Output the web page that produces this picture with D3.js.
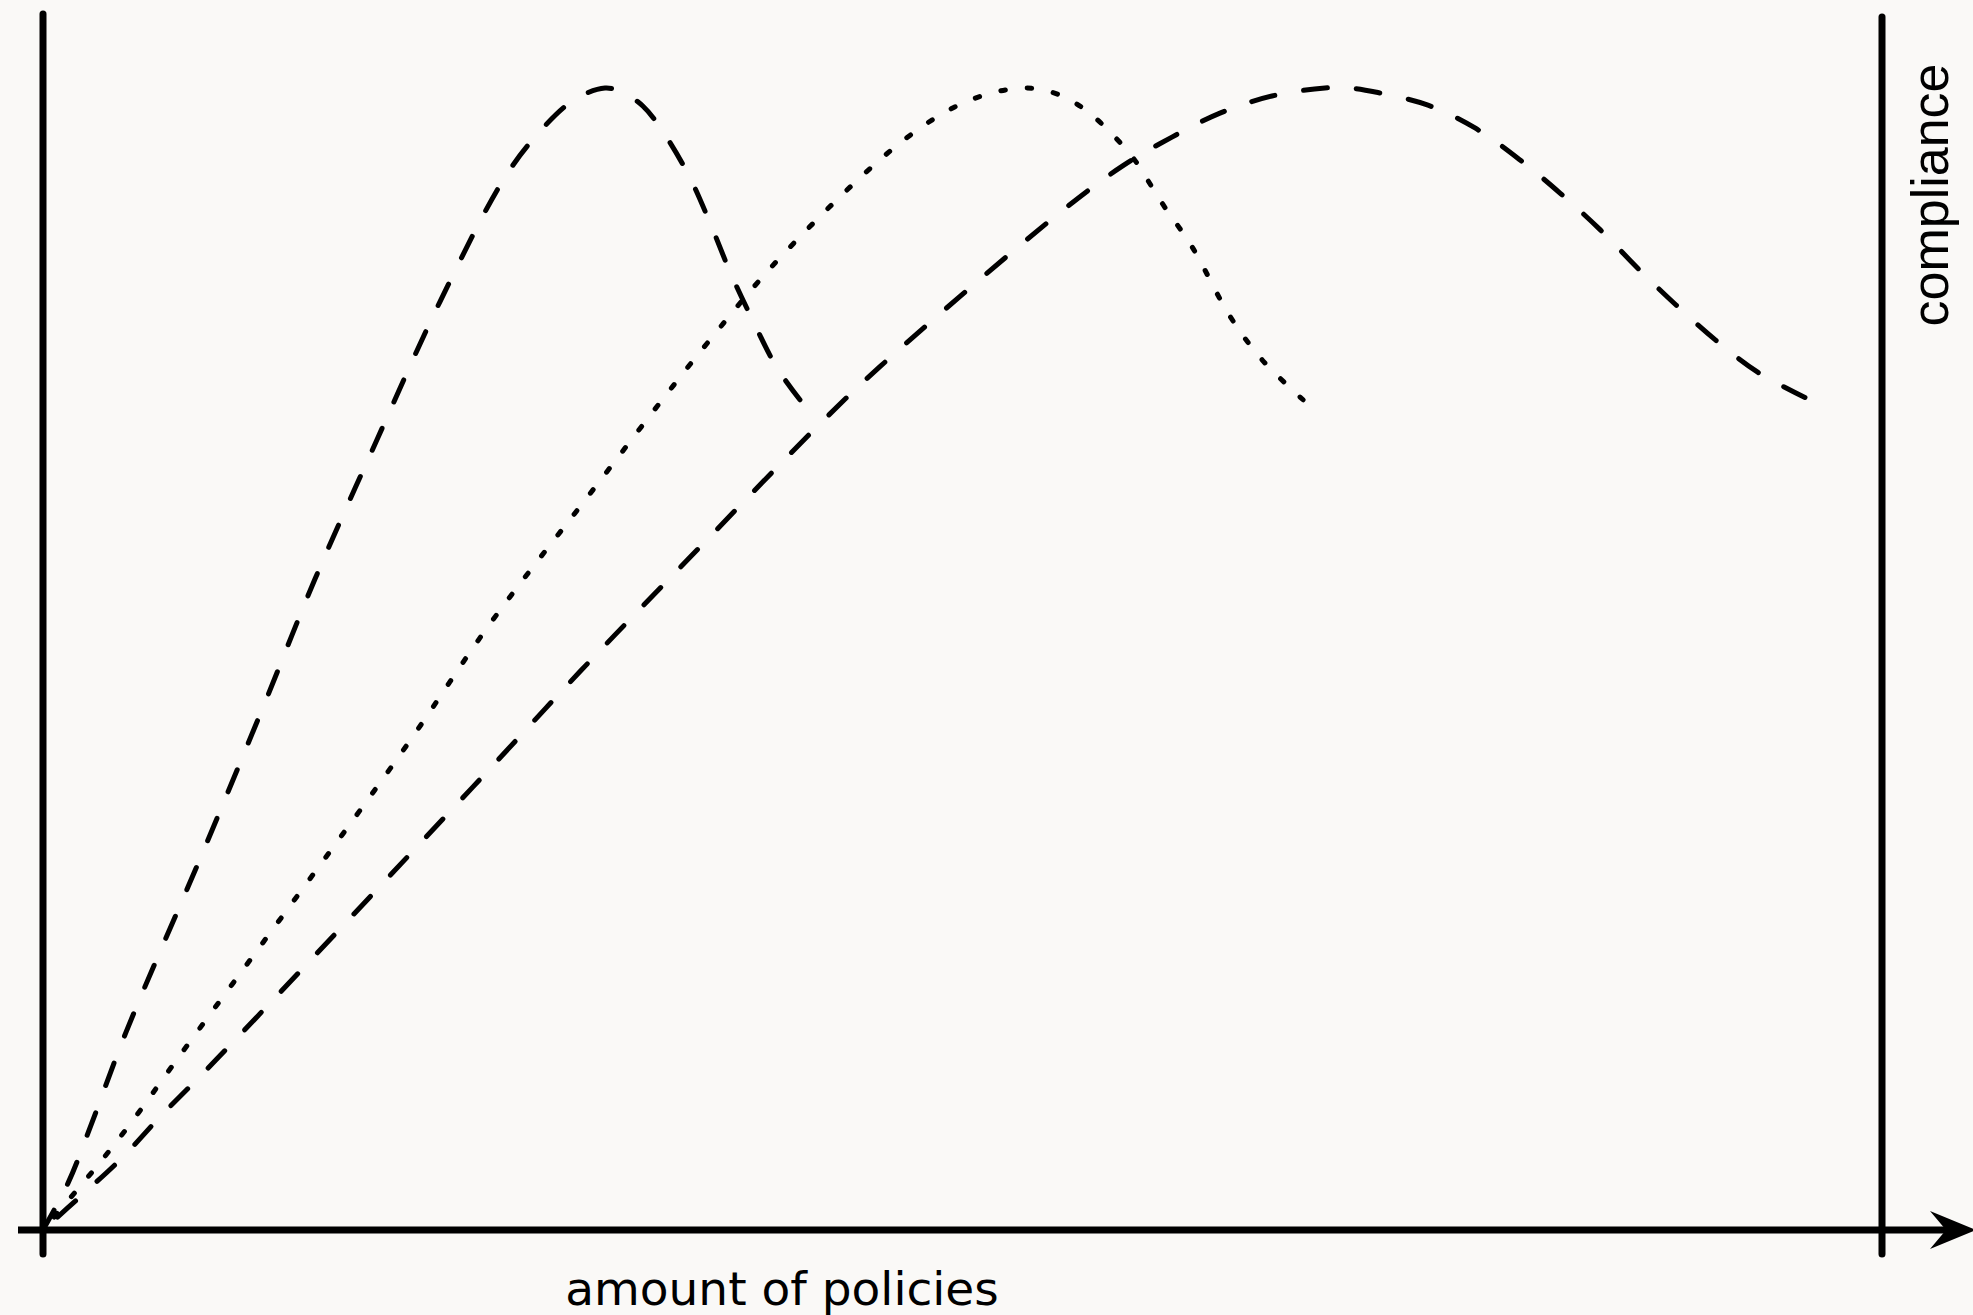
<!DOCTYPE html>
<html>
<head>
<meta charset="utf-8">
<script src="https://cdn.jsdelivr.net/npm/d3@7"></script>
<style>
  html, body { margin: 0; padding: 0; background: #faf9f7; }
  svg { display: block; }
</style>
</head>
<body>
<div id="chart"></div>
<script>
// Data: [amount of policies, compliance] in arbitrary units (peak = 100)
const curveNarrow = [[0,0],[1.36,4.1],[2.45,8.5],[4.51,17.3],[8.59,32.7],[12.02,46.0],[14.79,57.0],[18.16,69.2],[21.59,81.3],[25.01,91.9],[26.75,95.7],[28.82,98.9],[30.56,100],[31.54,99.6],[32.63,98.4],[33.66,96.3],[35.13,92.3],[36.27,88.2],[37.36,83.9],[38.61,79.6],[39.91,75.5],[41.16,72.7]]
const curveMiddle = [[0,0],[2.99,5.7],[4.84,9.5],[7.45,15.3],[19.41,41.6],[24.36,53.2],[29.47,63.9],[35.89,77.2],[40.46,85.8],[46.93,95.6],[50.35,98.9],[53.24,100],[54.92,99.6],[56.12,98.7],[57.2,97.4],[58.29,95.7],[59.27,93.9],[60.9,89.8],[62.48,86.1],[64.55,80.0],[66.29,76.2],[68.52,72.7]]
const curveWide = [[0,0],[2.28,3.3],[4.35,6.4],[6.36,9.9],[9.41,14.9],[23.38,38.8],[29.2,48.9],[35.18,58.9],[42.25,70.6],[45.51,75.6],[55.3,89.1],[58.73,93.2],[61.39,95.7],[64.0,97.8],[66.83,99.3],[69.71,100],[71.07,100],[72.59,99.6],[75.31,98.5],[77.87,96.5],[80.32,93.7],[82.49,90.8],[84.67,87.6],[86.73,84.2],[88.8,81.0],[90.97,77.9],[93.26,75.1],[95.81,72.9]]

const xLabel = 'amount of policies'
const yLabel = 'compliance'

function draw() {
  // Dimensions
  const width = 1973
  const height = 1315

  const svg = d3.select('#chart')
    .append('svg')
    .attr('width', width)
    .attr('height', height)

  // Scales
  const xScale = d3.scaleLinear()
    .domain([0, 100])
    .range([43, 1882])

  const yScale = d3.scaleLinear()
    .domain([0, 100])
    .range([1230, 88])

  const x0 = xScale(0)
  const x1 = xScale(100)
  const y0 = yScale(0)

  // curves
  const lineGenerator = d3.line()
    .x(d => xScale(d[0]))
    .y(d => yScale(d[1]))
    .curve(d3.curveCatmullRom.alpha(0.5))

  const series = [
    { data: curveNarrow, dash: 24, gap: 29 },
    { data: curveMiddle, dash: 4.5, gap: 22 },
    { data: curveWide, dash: 24, gap: 29 },
  ]

  svg.selectAll('path.curve')
    .data(series)
    .join('path')
    .attr('class', 'curve')
    .attr('d', d => lineGenerator(d.data))
    .attr('fill', 'none')
    .attr('stroke', '#000')
    .attr('stroke-width', 5)
    .attr('stroke-linecap', 'round')
    .attr('stroke-dasharray', d => `${d.dash},${d.gap}`)
    .attr('stroke-dashoffset', function(d) {
      // line the pattern up so the curve ends on a dash
      const period = d.dash + d.gap
      const len = this.getTotalLength()
      return ((d.dash - (len % period)) % period + period) % period
    })

  // axes
  const axisStyle = sel => sel
    .attr('stroke', '#000')
    .attr('stroke-width', 7)
    .attr('stroke-linecap', 'round')

  svg.append('line')
    .attr('x1', x0).attr('x2', x0)
    .attr('y1', 14).attr('y2', y0 + 24)
    .call(axisStyle)

  svg.append('line')
    .attr('x1', x1).attr('x2', x1)
    .attr('y1', 17).attr('y2', y0 + 24)
    .call(axisStyle)

  svg.append('line')
    .attr('x1', x0 - 25).attr('x2', 1950)
    .attr('y1', y0).attr('y2', y0)
    .call(axisStyle)
    .attr('stroke-linecap', 'butt')

  // arrow head
  svg.append('path')
    .attr('d', `M1976,${y0} L1930,${y0 - 19} L1946,${y0} L1930,${y0 + 19} Z`)
    .attr('fill', '#000')

  // labels
  svg.append('text')
    .attr('x', 782)
    .attr('y', 1305)
    .attr('text-anchor', 'middle')
    .style('font-family', '"DejaVu Sans", sans-serif')
    .style('font-size', '47px')
    .attr('fill', '#000')
    .text(xLabel)

  svg.append('text')
    .attr('transform', `translate(1948, 195) rotate(-90)`)
    .attr('text-anchor', 'middle')
    .style('font-family', '"Liberation Sans", Arial, sans-serif')
    .style('font-size', '52px')
    .attr('fill', '#000')
    .text(yLabel)
}

draw()
</script>
</body>
</html>
